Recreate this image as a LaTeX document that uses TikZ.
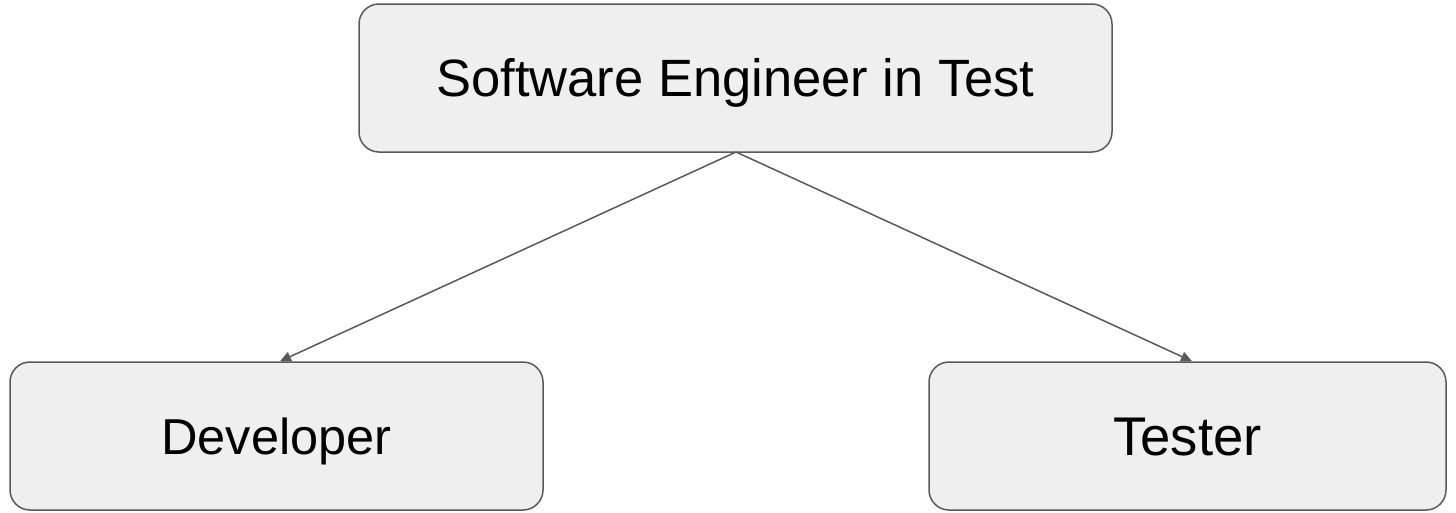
\documentclass[tikz,border=0pt]{standalone}
\usepackage{fontspec}
\setmainfont{Liberation Sans}
\usetikzlibrary{arrows.meta}
\definecolor{boxfill}{HTML}{EFEFEF}
\definecolor{boxline}{HTML}{595959}
\begin{document}
\begin{tikzpicture}[x=1pt,y=-1pt,
  box/.style={draw=boxline,fill=boxfill,line width=1.5pt,rounded corners=20pt,inner sep=0pt,text depth=0pt},
  conn/.style={draw=boxline,line width=1.5pt,-{Triangle[length=11pt,width=10pt]}}]
\useasboundingbox (0,0) rectangle (1456,512);
\node[box,minimum width=753pt,minimum height=148pt,text height=36pt,font=\fontsize{52.5}{60}\selectfont] (top) at (735.5,78) {Software Engineer in Test};
\node[box,minimum width=533pt,minimum height=148pt,text height=37pt,font=\fontsize{50.5}{60}\selectfont] (dev) at (276.5,436) {Developer};
\node[box,minimum width=517pt,minimum height=148pt,text height=39pt,font=\fontsize{54.5}{60}\selectfont] (tes) at (1187.5,436) {Tester};
\coordinate (src) at (736,152);
\draw[conn] (src) -- (dev.north-|280,0);
\draw[conn] (src) -- (tes.north-|1192,0);
\end{tikzpicture}
\end{document}
